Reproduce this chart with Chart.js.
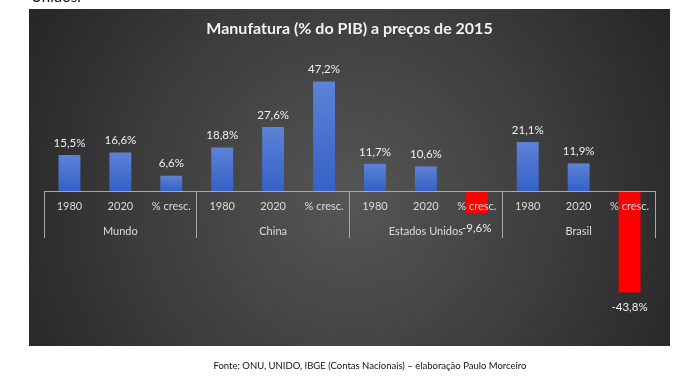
<!DOCTYPE html>
<html>
<head>
<meta charset="utf-8">
<script src="https://cdn.jsdelivr.net/npm/chart.js@4.4.1/dist/chart.umd.min.js"></script>
<style>
  html, body { margin: 0; padding: 0; background: #ffffff; }
  #wrap { position: relative; width: 694px; height: 388px; overflow: hidden; }
  #top { position: absolute; left: 31px; top: -13px; font: 15px Lato, sans-serif; color: #111; z-index: 2; }
  #foot { position: absolute; left: 0; width: 740px; top: 360px; text-align: center; font: 9.5px Lato, sans-serif; color: #111; z-index: 2; }
</style>
</head>
<body>
<div id="wrap">
  <div id="top">Unidos.</div>
  <canvas id="c" width="694" height="388"></canvas>
  <div id="foot">Fonte: ONU, UNIDO, IBGE (Contas Nacionais) – elaboração Paulo Morceiro</div>
</div>
<script>
const groups = ['Mundo', 'China', 'Estados Unidos', 'Brasil'];
const categories = ['1980', '2020', '% cresc.', '1980', '2020', '% cresc.', '1980', '2020', '% cresc.', '1980', '2020', '% cresc.'];
const values = [15.5, 16.6, 6.6, 18.8, 27.6, 47.2, 11.7, 10.6, -9.6, 21.1, 11.9, -43.8];
const titleText = 'Manufatura (% do PIB) a preços de 2015';

const bgPlugin = {
  id: 'bg',
  beforeDraw(chart) {
    const ctx = chart.ctx;
    ctx.save();
    ctx.fillStyle = '#ffffff';
    ctx.fillRect(0, 0, chart.width, chart.height);
    const g = ctx.createRadialGradient(350, 200, 0, 350, 200, 420);
    g.addColorStop(0, '#565656');
    g.addColorStop(0.5, '#3c3c3c');
    g.addColorStop(1, '#1f1f1f');
    ctx.fillStyle = g;
    ctx.fillRect(29, 9, 641, 337);
    ctx.restore();
  }
};

const labelPlugin = {
  id: 'vlabels',
  afterDatasetsDraw(chart) {
    const ctx = chart.ctx;
    const meta = chart.getDatasetMeta(0);
    ctx.save();
    ctx.font = '11.5px Lato, sans-serif';
    ctx.fillStyle = '#efefef';
    ctx.textAlign = 'center';
    ctx.textBaseline = 'middle';
    meta.data.forEach((bar, i) => {
      const v = values[i];
      const txt = v.toFixed(1).replace('.', ',') + '%';
      const y = v >= 0 ? bar.y - 12 : bar.y + 15;
      ctx.fillText(txt, bar.x, y);
    });
    ctx.restore();
  }
};

function barColor(c) {
  const v = values[c.dataIndex];
  if (v < 0) return '#ff0000';
  const chart = c.chart;
  const ys = chart.scales.y;
  if (!chart.chartArea || !ys) return '#4472c4';
  const top = ys.getPixelForValue(v);
  const bot = ys.getPixelForValue(0);
  const g = chart.ctx.createLinearGradient(0, top, 0, bot);
  g.addColorStop(0, '#5d83d8');
  g.addColorStop(1, '#3561c6');
  return g;
}

new Chart(document.getElementById('c'), {
  type: 'bar',
  data: {
    labels: categories,
    datasets: [{
      data: values,
      backgroundColor: barColor,
      borderWidth: 0,
      categoryPercentage: 1.0,
      barPercentage: 0.43,
      xAxisID: 'x',
      yAxisID: 'y'
    }]
  },
  options: {
    responsive: false,
    animation: false,
    events: [],
    layout: { padding: { left: 44, right: 39, top: 9, bottom: 81 } },
    plugins: {
      legend: { display: false },
      tooltip: { enabled: false },
      title: {
        display: true,
        text: titleText,
        color: '#f2f2f2',
        font: { family: 'Lato, sans-serif', size: 16, weight: 'bold' },
        padding: { top: 10, bottom: 36.8 }
      }
    },
    scales: {
      y: {
        display: false,
        min: -50,
        max: 50
      },
      x: {
        type: 'category',
        position: { y: 0 },
        grid: { display: false, drawTicks: false },
        border: { display: true, color: '#a8a8a8', width: 1, z: 1 },
        ticks: {
          z: 1,
          color: '#dcdcdc',
          font: { family: 'Lato, sans-serif', size: 11 },
          padding: 9,
          maxRotation: 0,
          autoSkip: false
        },
        afterFit(s) { s.height = 0; }
      },
      xg: {
        type: 'category',
        axis: 'x',
        labels: groups,
        offset: true,
        position: { y: 0 },
        grid: {
          display: true,
          offset: true,
          drawOnChartArea: false,
          drawTicks: true,
          tickLength: 47,
          color: '#a8a8a8',
          lineWidth: 1
        },
        border: { display: false },
        ticks: {
          color: '#dcdcdc',
          font: { family: 'Lato, sans-serif', size: 11 },
          padding: -13,
          maxRotation: 0,
          autoSkip: false
        },
        afterFit(s) { s.height = 0; }
      }
    }
  },
  plugins: [bgPlugin, labelPlugin]
});
</script>
</body>
</html>
